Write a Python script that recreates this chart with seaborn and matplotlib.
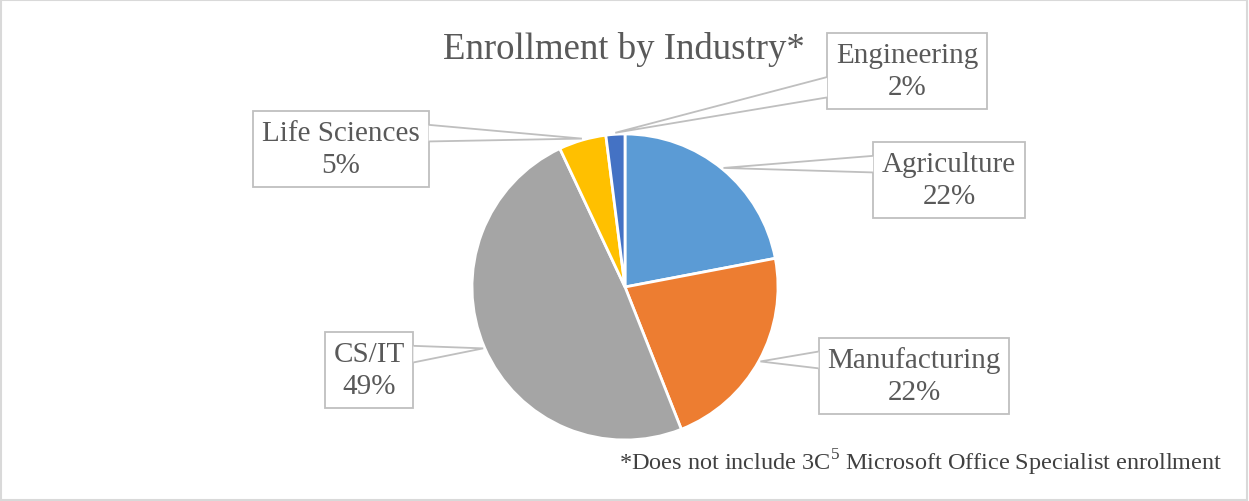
import numpy as np
import matplotlib
matplotlib.use("Agg")
import matplotlib.pyplot as plt
from matplotlib.patches import Polygon, Rectangle
import seaborn as sns

# Data
industries = ["Agriculture", "Manufacturing", "CS/IT", "Life Sciences", "Engineering"]
shares = [22, 22, 49, 5, 2]
colors = ["#5B9BD5", "#ED7D31", "#A5A5A5", "#FFC000", "#4472C4"]
title = "Enrollment by Industry*"
footnote = "*Does not include 3C$^{\\mathregular{5}}$ Microsoft Office Specialist enrollment"

# label box centres in pixels (layout only)
label_pos = {
    "Agriculture": (949, 181),
    "Manufacturing": (914, 377),
    "CS/IT": (369, 371),
    "Life Sciences": (341, 150),
    "Engineering": (907, 72),
}

sns.set_theme(style="white")
plt.rcParams["font.family"] = ["Liberation Serif", "DejaVu Serif"]
plt.rcParams["mathtext.fontset"] = "custom"
plt.rcParams["mathtext.rm"] = "Liberation Serif"

W, H = 1249, 502
cx, cy, R = 625, 288, 153
fig = plt.figure(figsize=(W / 100, H / 100), dpi=100)
ax = fig.add_axes([0, 0, 1, 1])

def px(x, y):
    return (x - cx) / R, (cy - y) / R

wedges, _ = ax.pie(shares, colors=sns.color_palette(colors), startangle=90,
                   counterclock=False, radius=1,
                   wedgeprops=dict(edgecolor="white", linewidth=2))
ax.set_aspect("auto")
ax.set_xlim(-cx / R, (W - cx) / R)
ax.set_ylim(-(H - cy) / R, cy / R)
ax.axis("off")

texts = []
for w, name, val in zip(wedges, industries, shares):
    lx, ly = px(*label_pos[name])
    t = ax.text(lx, ly, f"{name}\n{val}%", ha="center", va="center", fontsize=21,
                color="#595959", linespacing=1.3, zorder=5,
                bbox=dict(boxstyle="square,pad=0.3", fc="white", ec="#BFBFBF", lw=1.3))
    texts.append((t, w))

fig.canvas.draw()
inv = ax.transData.inverted()
for t, w in texts:
    bb = t.get_bbox_patch().get_window_extent()
    (x0, y0), (x1, y1) = inv.transform([[bb.x0, bb.y0], [bb.x1, bb.y1]])
    mid = np.deg2rad((w.theta1 + w.theta2) / 2)
    ax_, ay_ = 1.01 * np.cos(mid), 1.01 * np.sin(mid)
    ex = x0 if ax_ < x0 else x1
    h = y1 - y0
    if ay_ < y0:
        ya, yb = y1 - 0.58 * h, y1 - 0.85 * h
    else:
        ya, yb = y1 - 0.18 * h, y1 - 0.40 * h
    poly = Polygon([[ex, ya], [ax_, ay_], [ex, yb]], closed=False, fc="white",
                   ec="#BFBFBF", lw=1.3, zorder=6)
    ax.add_patch(poly)

ax.text(*px(624, 50), title, ha="center", va="center", fontsize=26.5, color="#595959")
ax.text(*px(1222, 463), footnote, ha="right", va="center", fontsize=17.5, color="#404040")

fig.patches.append(Rectangle((0.0005, 0.001), 0.998, 0.997, transform=fig.transFigure,
                             fill=False, ec="#D9D9D9", lw=1.5))
fig.savefig("out.png", dpi=100, facecolor="white")
